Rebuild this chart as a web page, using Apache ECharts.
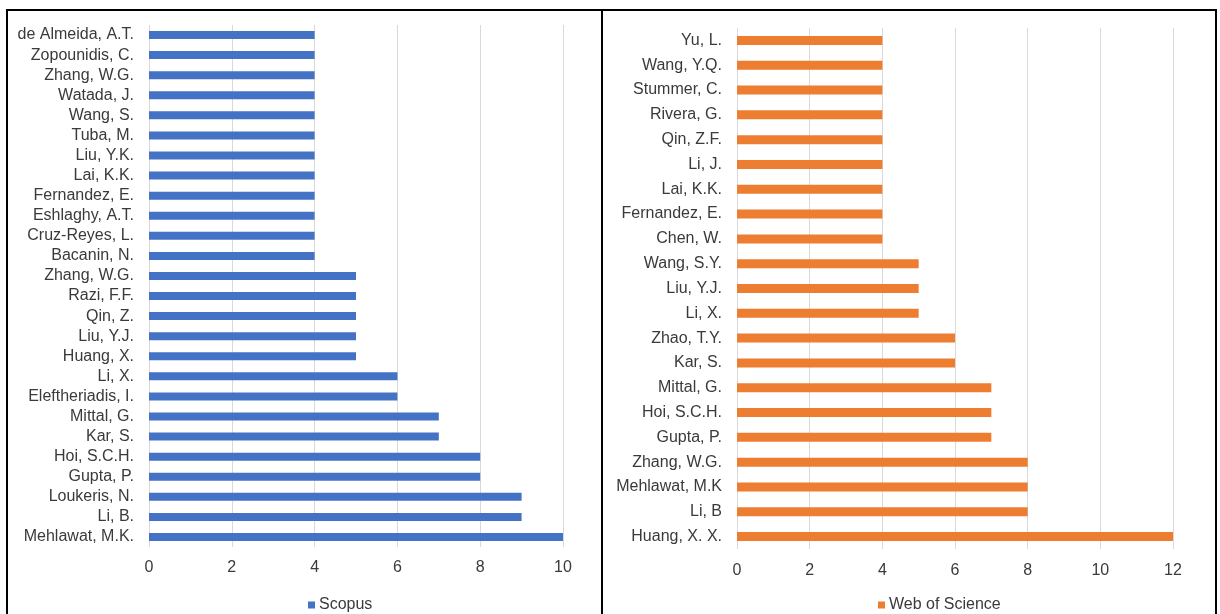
<!DOCTYPE html>
<html>
<head>
<meta charset="utf-8">
<title>Top authors by publications</title>
<script src="https://cdn.jsdelivr.net/npm/echarts@6/dist/echarts.min.js"></script>
<style>
  html, body { margin: 0; padding: 0; background: #ffffff; }
  #chart { width: 1220px; height: 614px; }
</style>
</head>
<body>
<div id="chart"></div>
<script>
// Scopus: authors listed top to bottom
const scopusAuthors = [
  'de Almeida, A.T.', 'Zopounidis, C.', 'Zhang, W.G.', 'Watada, J.', 'Wang, S.',
  'Tuba, M.', 'Liu, Y.K.', 'Lai, K.K.', 'Fernandez, E.', 'Eshlaghy, A.T.',
  'Cruz-Reyes, L.', 'Bacanin, N.', 'Zhang, W.G.', 'Razi, F.F.', 'Qin, Z.',
  'Liu, Y.J.', 'Huang, X.', 'Li, X.', 'Eleftheriadis, I.', 'Mittal, G.',
  'Kar, S.', 'Hoi, S.C.H.', 'Gupta, P.', 'Loukeris, N.', 'Li, B.', 'Mehlawat, M.K.'
];
const scopusCounts = [
  4, 4, 4, 4, 4,
  4, 4, 4, 4, 4,
  4, 4, 5, 5, 5,
  5, 5, 6, 6, 7,
  7, 8, 8, 9, 9, 10
];

// Web of Science: authors listed top to bottom
const wosAuthors = [
  'Yu, L.', 'Wang, Y.Q.', 'Stummer, C.', 'Rivera, G.', 'Qin, Z.F.',
  'Li, J.', 'Lai, K.K.', 'Fernandez, E.', 'Chen, W.', 'Wang, S.Y.',
  'Liu, Y.J.', 'Li, X.', 'Zhao, T.Y.', 'Kar, S.', 'Mittal, G.',
  'Hoi, S.C.H.', 'Gupta, P.', 'Zhang, W.G.', 'Mehlawat, M.K', 'Li, B', 'Huang, X. X.'
];
const wosCounts = [
  4, 4, 4, 4, 4,
  4, 4, 4, 4, 5,
  5, 5, 6, 6, 7,
  7, 7, 8, 8, 8, 12
];

const seriesNames = ['Scopus', 'Web of Science'];
const scopusTicks = { min: 0, max: 10, interval: 2 };
const wosTicks = { min: 0, max: 12, interval: 2 };

const TEXT = '#3a3a3a';
const GRID_LINE = '#d9d9d9';
const FONT = '"Liberation Sans", Arial, sans-serif';
const FONT_SIZE = 16;

function valueAxis(gridIndex, ticks, labelGap) {
  return {
    type: 'value',
    gridIndex: gridIndex,
    min: ticks.min,
    max: ticks.max,
    interval: ticks.interval,
    axisLine: { show: false },
    axisTick: { show: false },
    splitLine: { show: true, lineStyle: { color: GRID_LINE, width: 1 } },
    axisLabel: { color: TEXT, fontSize: FONT_SIZE, fontFamily: FONT, margin: labelGap }
  };
}

function categoryAxis(gridIndex, names) {
  return {
    type: 'category',
    gridIndex: gridIndex,
    data: names,
    inverse: true,
    axisLine: { show: false },
    axisTick: { show: false },
    splitLine: { show: false },
    axisLabel: { color: TEXT, fontSize: FONT_SIZE, fontFamily: FONT, margin: 15, interval: 0 }
  };
}

function legendFor(name, left) {
  return {
    data: [name],
    left: left, top: 592,
    icon: 'rect', itemWidth: 7, itemHeight: 7, itemGap: 4,
    textStyle: { color: TEXT, fontSize: FONT_SIZE, fontFamily: FONT, padding: [0, 0, 0, -1] }
  };
}

const chart = echarts.init(document.getElementById('chart'), null, { renderer: 'canvas' });

chart.setOption({
  animation: false,
  backgroundColor: '#ffffff',
  textStyle: { fontFamily: FONT },
  grid: [
    { left: 149, top: 25, width: 414, height: 522, containLabel: false },
    { left: 737, top: 28, width: 436, height: 521, containLabel: false }
  ],
  xAxis: [valueAxis(0, scopusTicks, 13), valueAxis(1, wosTicks, 14)],
  yAxis: [categoryAxis(0, scopusAuthors), categoryAxis(1, wosAuthors)],
  legend: [legendFor(seriesNames[0], 303), legendFor(seriesNames[1], 873)],
  series: [
    {
      name: seriesNames[0],
      type: 'bar',
      xAxisIndex: 0,
      yAxisIndex: 0,
      data: scopusCounts,
      barWidth: 8,
      itemStyle: { color: '#4472C4' }
    },
    {
      name: seriesNames[1],
      type: 'bar',
      xAxisIndex: 1,
      yAxisIndex: 1,
      data: wosCounts,
      barWidth: 9,
      itemStyle: { color: '#ED7D31' }
    }
  ],
  graphic: [
    // panel frames: shared top edge, outer sides and the divider between panels
    { type: 'line', shape: { x1: 6, y1: 10, x2: 1217, y2: 10 }, style: { stroke: '#000', lineWidth: 2 } },
    { type: 'line', shape: { x1: 7, y1: 9, x2: 7, y2: 614 }, style: { stroke: '#000', lineWidth: 2 } },
    { type: 'line', shape: { x1: 602, y1: 9, x2: 602, y2: 614 }, style: { stroke: '#000', lineWidth: 2 } },
    { type: 'line', shape: { x1: 1216, y1: 9, x2: 1216, y2: 614 }, style: { stroke: '#000', lineWidth: 2 } }
  ]
});
</script>
</body>
</html>
